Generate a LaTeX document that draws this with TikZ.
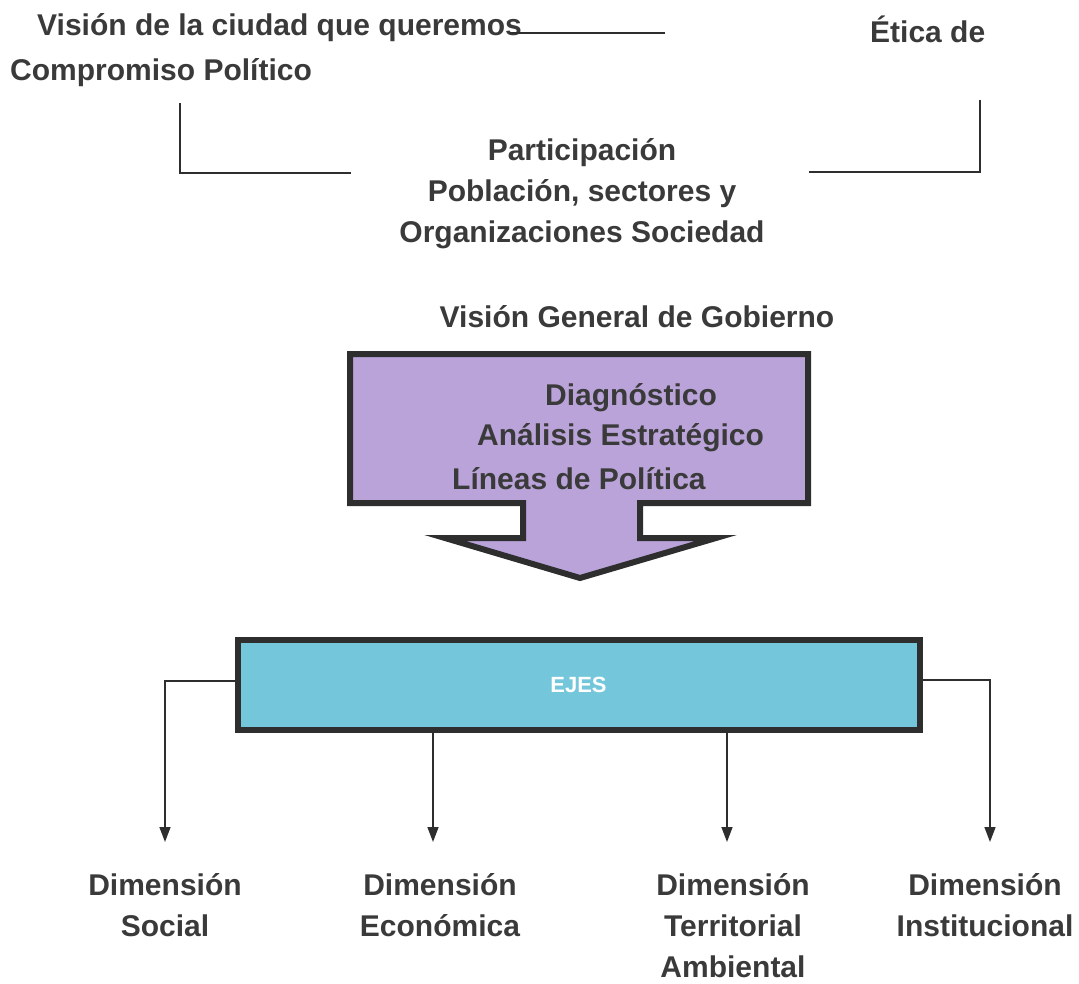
\documentclass[tikz,border=0pt]{standalone}
\usepackage{fontspec}
\setmainfont{Liberation Sans}
\usetikzlibrary{arrows.meta}
\definecolor{txt}{HTML}{3A3A3A}
\definecolor{lav}{HTML}{B9A3D8}
\definecolor{cyanbox}{HTML}{74C6DA}
\definecolor{edge}{HTML}{2E2E2E}
\tikzset{
  lbl/.style={font=\fontsize{30}{40}\selectfont\bfseries, text=txt, inner sep=0pt, align=center},
  dimlbl/.style={lbl, font=\fontsize{30}{41}\selectfont\bfseries, anchor=north},
  thinline/.style={draw=edge, line width=1.5pt},
  conn/.style={draw=edge, line width=1.5pt, -{Triangle[length=15pt,width=11pt]}},
  heavy/.style={draw=edge, line width=6pt, line join=miter}
}
\begin{document}
\begin{tikzpicture}[x=1pt,y=-1pt]
\useasboundingbox (0,0) rectangle (1079,984);
% top texts
\node[lbl, anchor=west] (vision) at (37,28) {Visión de la ciudad que queremos};
\node[lbl, anchor=west] (etica) at (870,29) {Ética de};
\node[lbl, anchor=west] (comp) at (10,73) {Compromiso Político};
\coordinate (topR) at (665,33);
\draw[thinline] (vision.east) ++(-12,5) coordinate (topL) -- (topR);
% brackets
\coordinate (lb1) at (180,103);
\coordinate (lb2) at (180,173);
\coordinate (lb3) at (351,173);
\draw[thinline] (lb1) -- (lb2) -- (lb3);
\coordinate (rb1) at (980,100);
\coordinate (rb2) at (980,172);
\coordinate (rb3) at (809,172);
\draw[thinline] (rb1) -- (rb2) -- (rb3);
% participation
\node[lbl, font=\fontsize{30}{41}\selectfont\bfseries] (part) at (582,194) {Participación\\Población, sectores y\\Organizaciones Sociedad};
\node[lbl] (vgg) at (637,317) {Visión General de Gobierno};
% purple arrow
\draw[heavy, fill=lav] (350,354) -- (808,354) -- (808,503) -- (640,503) -- (640,538) -- (716,538)
  -- (580,578) -- (445,538) -- (523,538) -- (523,503) -- (350,503) -- cycle;
\node[lbl, anchor=west] (diag) at (545,398) {Diagnóstico};
\node[lbl, anchor=west] (anal) at (477,438) {Análisis Estratégico};
\node[lbl, anchor=west] (lin) at (452,479) {Líneas de Política};
% EJES
\node[heavy, fill=cyanbox, minimum width=682pt, minimum height=90pt, inner sep=0pt,
  font=\fontsize{22}{26}\selectfont\bfseries, text=white] (ejes) at (578.5,685) {EJES};
% dimension labels
\node[dimlbl] (dsoc) at (165,873) {Dimensión\\Social};
\node[dimlbl] (deco) at (440,873) {Dimensión\\Económica};
\node[dimlbl] (dter) at (733,873) {Dimensión\\Territorial\\Ambiental};
\node[dimlbl] (dins) at (985,873) {Dimensión\\Institucional};
% connectors
\coordinate (ls) at (165,681);
\coordinate (lt) at (165,842);
\draw[conn] (ejes.west |- ls) -- (ls) -- (lt);
\coordinate (rs) at (990,680);
\coordinate (rt) at (990,842);
\draw[conn] (ejes.east |- rs) -- (rs) -- (rt);
\coordinate (m1) at (433,842);
\coordinate (m2) at (727,842);
\draw[conn] (ejes.south -| m1) -- (m1);
\draw[conn] (ejes.south -| m2) -- (m2);
\end{tikzpicture}
\end{document}
